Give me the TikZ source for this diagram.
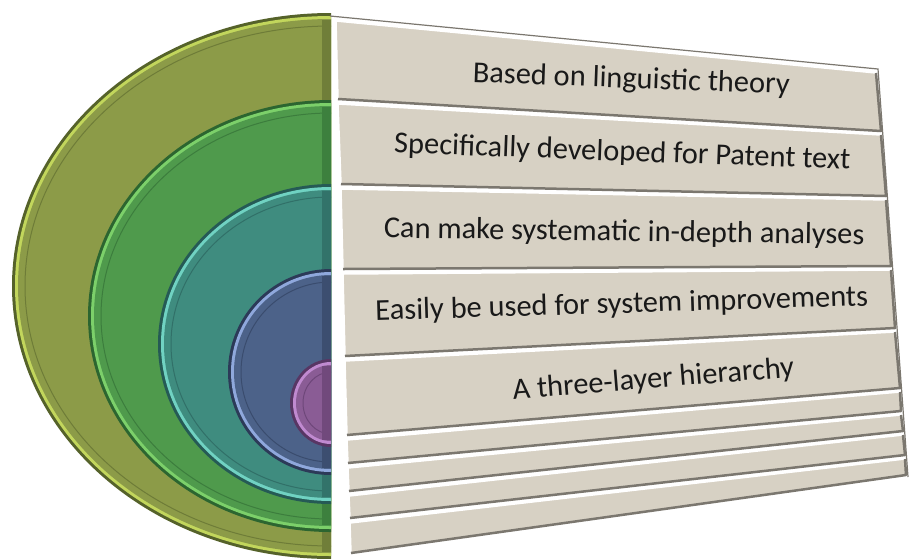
\documentclass[tikz,border=0pt]{standalone}
\usepackage{fontspec}
\setmainfont{Carlito}
\usepackage{tikz}

\definecolor{olivebase}{HTML}{8C9B48}
\definecolor{oliverim}{HTML}{C2D65C}
\definecolor{olivedark}{HTML}{55622A}
\definecolor{greenbase}{HTML}{4F9A4C}
\definecolor{greenrim}{HTML}{7CD06A}
\definecolor{greendark}{HTML}{2C6530}
\definecolor{tealbase}{HTML}{3F8C7F}
\definecolor{tealrim}{HTML}{70D2C2}
\definecolor{tealdark}{HTML}{255A55}
\definecolor{bluebase}{HTML}{4C6289}
\definecolor{bluerim}{HTML}{8FA8DC}
\definecolor{bluedark}{HTML}{2C3A58}
\definecolor{purplebase}{HTML}{8A5C95}
\definecolor{purplerim}{HTML}{C08AD0}
\definecolor{purpledark}{HTML}{583664}
\definecolor{paneltan}{HTML}{D7D1C4}
\definecolor{panelshadow}{HTML}{7B776F}

\tikzset{
	rowtext/.style={anchor=base, inner sep=0pt, text=black!90,
		font=\fontsize{30.4}{36}\selectfont},
	rowfill/.style={fill=paneltan},
	rowlight/.style={draw=white, line width=1.5pt},
	rowdark/.style={draw=panelshadow, line width=2.5pt, line join=round},
}

% half disc: centre y, x radius, y radius, base, rim, dark
\newcommand{\halfdisc}[6]{%
	\fill[#6] (331,{#1-#3-3}) arc[start angle=90, end angle=270, x radius={(#2+3)*1pt}, y radius={(#3+3)*1pt}] -- cycle;
	\fill[#5] (331,{#1-#3}) arc[start angle=90, end angle=270, x radius={#2*1pt}, y radius={#3*1pt}] -- cycle;
	\fill[#4] (331,{#1-#3+3}) arc[start angle=90, end angle=270, x radius={(#2-3)*1pt}, y radius={(#3-3)*1pt}] -- cycle;
	\draw[#6!55!#4, line width=1pt] (331,{#1-#3+10}) arc[start angle=90, end angle=270, x radius={(#2-10)*1pt}, y radius={(#3-10)*1pt}];
	\fill[#6!50!#4] (322,{#1-#3+4}) rectangle (331,{#1+#3-4});
}

% row of the panel: top left, top right, bottom right, bottom left
\newcommand{\panelrow}[8]{%
	\fill[rowfill] (#1,#2) -- (#3,#4) -- (#5,#6) -- (#7,#8) -- cycle;
	\draw[rowlight] (#7,#8) -- (#1,#2) -- (#3,#4);
	\draw[rowdark] (#3,#4) -- (#5,#6) -- (#7,#8);
}

\begin{document}
\begin{tikzpicture}[x=1pt, y=-1pt]
	\useasboundingbox[fill=white] (0,0) rectangle (910,558);

	% nested half discs
	\halfdisc{286}{316}{270}{olivebase}{oliverim}{olivedark}
	\halfdisc{316}{240}{213}{greenbase}{greenrim}{greendark}
	\halfdisc{344}{170}{157}{tealbase}{tealrim}{tealdark}
	\halfdisc{372}{100}{100}{bluebase}{bluerim}{bluedark}
	\halfdisc{403}{38}{41}{purplebase}{purplerim}{purpledark}

	% panel
	\draw[panelshadow, line width=1.2pt] (330,16) -- (878,69) -- (908,477);
	\panelrow{336}{21}{876}{73}{881}{131}{338}{99}
	\panelrow{338}{104}{881}{135}{886}{196}{341}{184}
	\panelrow{341}{189}{886}{200}{891}{266}{343}{269}
	\panelrow{343}{274}{891}{270}{895}{328}{345}{356}
	\panelrow{345}{361}{895}{332}{900}{388}{347}{435}
	\panelrow{347}{440}{900}{392}{901}{411}{348}{463}
	\panelrow{348}{468}{901}{415}{903}{431}{349}{491}
	\panelrow{349}{496}{903}{435}{905}{455}{350}{518}
	\panelrow{350}{523}{905}{459}{906}{475}{351}{553}

	\node[rowtext, rotate=-2.1] (r1) at (631, 88)  {Based on linguistic theory};
	\node[rowtext, rotate=-2.1] (r2) at (622, 161) {Specifically developed for Patent text};
	\node[rowtext, rotate=-0.8] (r3) at (624, 241) {Can make systematic in-depth analyses};
	\node[rowtext, rotate=1.7]  (r4) at (622, 313) {Easily be used for system improvements};
	\node[rowtext, rotate=4.6]  (r5) at (654, 388) {A three-layer hierarchy};
\end{tikzpicture}
\end{document}
